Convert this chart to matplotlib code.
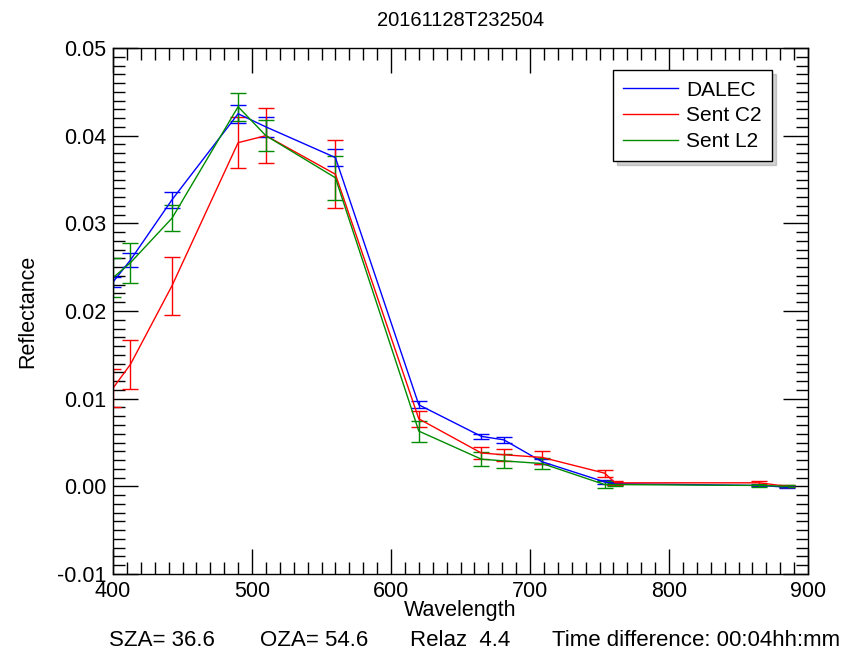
import numpy as np
import matplotlib.pyplot as plt
from matplotlib.lines import Line2D
from matplotlib.ticker import MultipleLocator, FormatStrFormatter

plt.rcParams['font.family'] = ['Liberation Sans', 'DejaVu Sans']

wavelength = [400, 412.5, 442.5, 490, 510, 560, 620, 665, 681.25, 708.75, 753.75, 761.25, 865, 885]

dalec = [0.0233, 0.0258, 0.0327, 0.0425, 0.0410, 0.0375, 0.0093, 0.0057, 0.0053, 0.0028, 0.0005, 0.0003, 0.0001, -0.0001]
dalec_err = [0.0006, 0.0008, 0.0009, 0.0010, 0.0011, 0.0010, 0.0004, 0.0003, 0.0003, 0.0003, 0.0002, 0.0002, 0.0001, 0.0001]

sent_c2 = [0.0112, 0.0139, 0.0229, 0.0392, 0.0400, 0.0356, 0.0077, 0.0038, 0.0036, 0.0033, 0.0015, 0.0004, 0.0004, 0.0000]
sent_c2_err = [0.0022, 0.0028, 0.0033, 0.0029, 0.0031, 0.0039, 0.0009, 0.0007, 0.0007, 0.0007, 0.0004, 0.0002, 0.0002, 0.0001]

sent_l2 = [0.0238, 0.0255, 0.0306, 0.0433, 0.0400, 0.0352, 0.0063, 0.0031, 0.0029, 0.0026, 0.0002, 0.0002, 0.0001, 0.0000]
sent_l2_err = [0.0022, 0.0023, 0.0015, 0.0016, 0.0018, 0.0025, 0.0012, 0.0008, 0.0008, 0.0006, 0.0004, 0.0002, 0.0002, 0.0001]

series = [(dalec, dalec_err, 'DALEC', '#0000ff'),
          (sent_c2, sent_c2_err, 'Sent C2', '#ff0000'),
          (sent_l2, sent_l2_err, 'Sent L2', '#008c00')]

fig = plt.figure(figsize=(8.52, 6.55), dpi=100)
ax = fig.add_axes([113/852, 1-574/655, (808-113)/852, (574-48)/655])

handles = []
for vals, errs, label, col in series:
    ax.errorbar(wavelength, vals, yerr=errs, color=col, lw=1.0,
                elinewidth=1.0, capsize=5.5, capthick=1.0)
    handles.append(Line2D([], [], color=col, lw=1.0, label=label))

ax.set_xlim(400, 900)
ax.set_ylim(-0.01, 0.05)
ax.xaxis.set_major_locator(MultipleLocator(100))
ax.xaxis.set_minor_locator(MultipleLocator(10))
ax.yaxis.set_major_locator(MultipleLocator(0.01))
ax.yaxis.set_minor_locator(MultipleLocator(0.001))
ax.yaxis.set_major_formatter(FormatStrFormatter('%.2f'))
ax.tick_params(which='both', direction='in', top=True, right=True, width=1.0, labelsize=15.5)
ax.tick_params(which='major', length=18)
ax.tick_params(which='minor', length=8.5)
ax.tick_params(axis='x', pad=5)
ax.tick_params(axis='y', pad=5)
for s in ax.spines.values():
    s.set_linewidth(1.0)

ax.set_title('20161128T232504', fontsize=14.5, pad=16)
ax.set_xlabel('Wavelength', fontsize=15.5)
ax.set_ylabel('Reflectance', fontsize=15.5)
ax.xaxis.set_label_coords(0.5, -0.049)
ax.yaxis.set_label_coords(-0.108, 0.5)

leg = ax.legend(handles=handles, loc='upper right', bbox_to_anchor=(0.948, 0.958),
                borderaxespad=0, fontsize=15, frameon=True, fancybox=False,
                edgecolor='black', shadow={'ox': 3, 'oy': -3, 'alpha': 0.25},
                handlelength=2.6, handletextpad=0.4, borderpad=0.5, labelspacing=0.32)
leg.get_frame().set_linewidth(1.0)

ty = 1 - 640/655
fig.text(109/852, ty, 'SZA= 36.6', fontsize=16, va='center')
fig.text(260/852, ty, 'OZA= 54.6', fontsize=16, va='center')
fig.text(410/852, ty, 'Relaz  4.4', fontsize=16, va='center')
fig.text(552/852, ty, 'Time difference: 00:04hh:mm', fontsize=16, va='center')

fig.savefig('out.png', dpi=100)
